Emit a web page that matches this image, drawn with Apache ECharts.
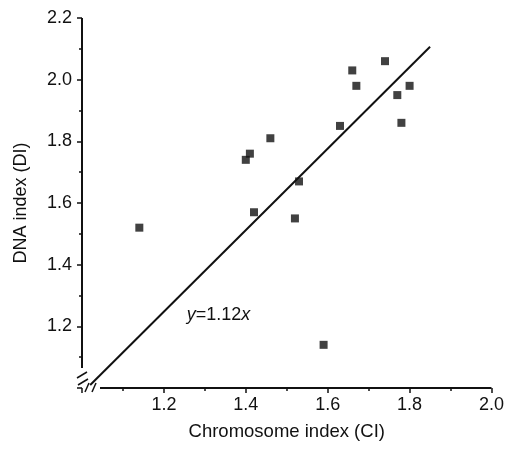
<!DOCTYPE html>
<html>
<head>
<meta charset="utf-8">
<script src="https://cdn.jsdelivr.net/npm/echarts@6/dist/echarts.min.js"></script>
<style>
html,body{margin:0;padding:0;background:#fff;}
#c{width:507px;height:449px;}
</style>
</head>
<body>
<div id="c"></div>
<script>
// Chromosome index (CI) values
var ciValues = [1.14, 1.40, 1.41, 1.42, 1.46, 1.52, 1.53, 1.59, 1.63, 1.66, 1.67, 1.74, 1.77, 1.78, 1.80];
// DNA index (DI) values
var diValues = [1.52, 1.74, 1.76, 1.57, 1.81, 1.55, 1.67, 1.14, 1.85, 2.03, 1.98, 2.06, 1.95, 1.86, 1.98];
// Fitted line endpoints as drawn in the figure
var fitX = [1.02, 1.85];
var fitY = [1.01, 2.107];
var fitLabel = 'y=1.12x';
var labelPos = [1.256, 1.237];
var xTicks = [1.0, 2.0, 0.2];
var yTicks = [1.0, 2.2, 0.2];

var points = ciValues.map(function (v, i) { return [v, diValues[i]]; });
var fitLine = fitX.map(function (v, i) { return [v, fitY[i]]; });

var FONT = 'Liberation Sans, Arial, sans-serif';
var chart = echarts.init(document.getElementById('c'));
var fmt = function (v) { return Math.abs(v - 1.0) < 1e-9 ? '' : v.toFixed(1); };

chart.setOption({
  animation: false,
  backgroundColor: '#fff',
  grid: { left: 82, right: 15, top: 18, bottom: 61, containLabel: false },
  xAxis: {
    type: 'value', min: xTicks[0], max: xTicks[1], interval: xTicks[2],
    name: 'Chromosome index (CI)', nameLocation: 'middle', nameGap: 34,
    nameTextStyle: { fontFamily: FONT, fontSize: 18.5, color: '#111' },
    axisLine: { show: false },
    axisTick: { show: true, length: 5, inside: false, lineStyle: { color: '#111', width: 1.5 } },
    minorTick: { show: true, splitNumber: 2, length: 3, lineStyle: { color: '#111', width: 1.5 } },
    splitLine: { show: false },
    axisLabel: { formatter: fmt, fontFamily: FONT, fontSize: 18, color: '#111', margin: 8 }
  },
  yAxis: {
    type: 'value', min: yTicks[0], max: yTicks[1], interval: yTicks[2],
    name: 'DNA index (DI)', nameLocation: 'middle', nameGap: 52,
    nameTextStyle: { fontFamily: FONT, fontSize: 18, color: '#111' },
    axisLine: { show: false },
    axisTick: { show: true, length: 5, lineStyle: { color: '#111', width: 1.5 } },
    minorTick: { show: true, splitNumber: 2, length: 3, lineStyle: { color: '#111', width: 1.5 } },
    splitLine: { show: false },
    axisLabel: { formatter: fmt, fontFamily: FONT, fontSize: 18, color: '#111', margin: 10 }
  },
  series: [
    {
      type: 'line', data: fitLine, symbol: 'none', silent: true,
      lineStyle: { color: '#111', width: 2 }, z: 2
    },
    {
      type: 'scatter', data: points, symbol: 'rect', symbolSize: 8,
      itemStyle: { color: '#111' }, z: 3
    }
  ]
});

var pO = chart.convertToPixel({ gridIndex: 0 }, [xTicks[0], yTicks[0]]);
var pTop = chart.convertToPixel({ gridIndex: 0 }, [xTicks[0], yTicks[1]]);
var pRight = chart.convertToPixel({ gridIndex: 0 }, [xTicks[1], yTicks[0]]);
var pLab = chart.convertToPixel({ gridIndex: 0 }, labelPos);
var ls = { stroke: '#111', lineWidth: 1.5 };
var ls2 = { stroke: '#111', lineWidth: 2 };
chart.setOption({
  graphic: [
    { type: 'line', shape: { x1: pO[0], y1: pTop[1], x2: pO[0], y2: pO[1] - 20 }, style: ls2 },
    { type: 'line', shape: { x1: pO[0] + 18, y1: pO[1], x2: pRight[0], y2: pO[1] }, style: ls2 },
    { type: 'line', shape: { x1: pO[0] - 5, y1: pO[1] - 10, x2: pO[0] + 5, y2: pO[1] - 16 }, style: ls },
    { type: 'line', shape: { x1: pO[0] - 4, y1: pO[1] - 3, x2: pO[0] + 6, y2: pO[1] - 9 }, style: ls },
    { type: 'line', shape: { x1: pO[0] + 3, y1: pO[1] + 4, x2: pO[0] + 7, y2: pO[1] - 5 }, style: ls },
    { type: 'line', shape: { x1: pO[0] + 10, y1: pO[1] + 4, x2: pO[0] + 14, y2: pO[1] - 5 }, style: ls },
    {
      type: 'text', x: pLab[0], y: pLab[1],
      style: {
        text: '{i|y}=1.12{i|x}',
        font: '18px ' + FONT, fill: '#111', verticalAlign: 'middle', align: 'left',
        rich: { i: { fontStyle: 'italic', fontSize: 18, fontFamily: FONT, fill: '#111' } }
      }
    }
  ]
});
</script>
</body>
</html>
